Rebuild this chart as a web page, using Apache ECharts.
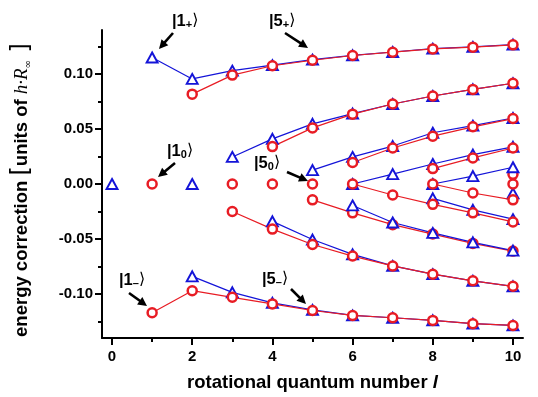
<!DOCTYPE html>
<html>
<head>
<meta charset="utf-8">
<script src="https://cdn.jsdelivr.net/npm/echarts@6/dist/echarts.min.js"></script>
<style>
  html, body { margin: 0; padding: 0; background: #fff; }
  #chart { width: 538px; height: 397px; }
</style>
</head>
<body>
<div id="chart"></div>
<script>
// rotational quantum number l
const lValues = [0, 1, 2, 3, 4, 5, 6, 7, 8, 9, 10];

// blue triangles, one array per branch (null = no point)
const blueTop   = [null, 0.115, 0.0955, 0.103, 0.108, 0.113, 0.117, 0.120, 0.123, 0.1246, 0.1267];
const blueUp2   = [null, null, null, 0.0246, 0.041, 0.0547, 0.064, 0.0727, 0.080, 0.086, 0.0916];
const blueUp3   = [null, null, null, null, null, 0.0126, 0.0246, 0.0345, 0.0466, 0.053, 0.060];
const blueUp4   = [null, null, null, null, null, null, 0, 0.009, 0.0182, 0.0267, 0.0338];
const blueUp5   = [null, null, null, null, null, null, null, null, 0, 0.0072, 0.0152];
const blueDown4 = [null, null, null, null, null, null, null, null, -0.013, -0.0235, -0.032];
const blueDown3 = [null, null, null, null, null, null, -0.0195, -0.035, -0.0445, -0.053, -0.0605];
const blueDown2 = [null, null, null, null, -0.034, -0.0505, -0.064, -0.0745, -0.082, -0.088, -0.093];
const blueBottom = [null, null, -0.084, -0.0985, -0.108, -0.1145, -0.1195, -0.1216, -0.124, -0.127, -0.1286];
const blueSingle = [0, null, 0, null, null, null, null, null, null, null, -0.0085];

// red circles
const redTop    = [null, null, 0.0817, 0.099, 0.1075, 0.1125, 0.1168, 0.1198, 0.1228, 0.1244, 0.1265];
const redUp2    = [null, null, null, null, 0.034, 0.051, 0.0635, 0.0727, 0.080, 0.086, 0.0916];
const redUp3    = [null, null, null, null, null, null, 0.0195, 0.0327, 0.0435, 0.052, 0.0595];
const redUp4    = [null, null, null, null, null, null, null, null, 0.014, 0.0237, 0.0327];
const redDown5  = [null, null, null, null, null, null, null, null, 0, -0.0082, -0.0144];
const redDown4  = [null, null, null, null, null, null, 0, -0.010, -0.0185, -0.0262, -0.0345];
const redDown3  = [null, null, null, null, null, -0.0144, -0.0262, -0.037, -0.0455, -0.054, -0.061];
const redDown2  = [null, null, null, -0.025, -0.041, -0.055, -0.0655, -0.0745, -0.082, -0.088, -0.093];
const redBottom = [null, -0.117, -0.097, -0.103, -0.109, -0.115, -0.1195, -0.1216, -0.124, -0.127, -0.1286];
const redSingle = [null, 0, null, 0, 0, 0, null, null, null, null, 0];
const redSingle2 = [null, null, null, null, null, null, null, null, null, null, 0.0088];

// ticks
const xMajorTicks = [0, 2, 4, 6, 8, 10];
const xMinorTicks = [1, 3, 5, 7, 9];
const yMajorTicks = [-0.1, -0.05, 0, 0.05, 0.1];
const yMinorTicks = [-0.125, -0.075, -0.025, 0.025, 0.075, 0.125];

const BLUE = "#1414d8";
const RED = "#e81c24";

function toPairs(values) {
  return lValues
    .map((l, i) => (values[i] === null ? null : [l, values[i]]))
    .filter(p => p);
}

function blueSeries(values, asScatter) {
  return {
    type: asScatter ? "scatter" : "line",
    data: toPairs(values),
    symbol: "triangle",
    symbolSize: [11, 10],
    itemStyle: { color: "#fff", borderColor: BLUE, borderWidth: 1.9, opacity: 1 },
    lineStyle: { color: BLUE, width: 1.2 },
    animation: false,
    silent: true
  };
}

function redSeries(values, asScatter) {
  return {
    type: asScatter ? "scatter" : "line",
    data: toPairs(values),
    symbol: "circle",
    symbolSize: 9,
    itemStyle: { color: "#fff", borderColor: RED, borderWidth: 2.5, opacity: 1 },
    lineStyle: { color: RED, width: 1.2 },
    animation: false,
    silent: true
  };
}

const series = [
  blueSeries(blueTop), blueSeries(blueUp2), blueSeries(blueUp3), blueSeries(blueUp4),
  blueSeries(blueUp5), blueSeries(blueDown4), blueSeries(blueDown2),
  blueSeries(blueBottom), blueSeries(blueSingle, true),
  redSeries(redTop), redSeries(redUp2), redSeries(redUp3), redSeries(redUp4),
  redSeries(redDown5), redSeries(redDown4), redSeries(redDown3), redSeries(redDown2),
  redSeries(redBottom), redSeries(redSingle, true), redSeries(redSingle2, true),
  // this branch shows the triangles on top
  blueSeries(blueDown3)
];

// ket labels with arrows (pixel layout)
const kets = [
  { n: "1", s: "+", x: 172, y: 21, from: [173, 33], to: [159, 49] },
  { n: "5", s: "+", x: 269, y: 21, from: [285, 33], to: [308, 48] },
  { n: "1", s: "0", x: 167, y: 151, from: [175, 163], to: [158, 177] },
  { n: "5", s: "0", x: 254, y: 163, from: [287, 172], to: [308, 181] },
  { n: "1", s: "\u2013", x: 119, y: 280, from: [129, 293], to: [147, 306] },
  { n: "5", s: "\u2013", x: 262, y: 279, from: [291, 289], to: [306, 304] }
];

const ketRich = {
  b: { fontFamily: "Liberation Sans", fontWeight: "bold", fontSize: 16.5, lineHeight: 19, verticalAlign: "middle", fill: "#000" },
  s: { fontFamily: "Liberation Sans", fontWeight: "bold", fontSize: 11, lineHeight: 11, verticalAlign: "bottom", fill: "#000" },
  k: { fontFamily: "DejaVu Sans", fontSize: 16, lineHeight: 19, verticalAlign: "middle", fill: "#000" }
};

function arrowGraphics(from, to) {
  const dx = to[0] - from[0];
  const dy = to[1] - from[1];
  const len = Math.sqrt(dx * dx + dy * dy);
  const ux = dx / len, uy = dy / len;
  const head = 9, half = 4.5;
  const bx = to[0] - ux * head, by = to[1] - uy * head;
  return [
    {
      type: "line",
      shape: { x1: from[0], y1: from[1], x2: bx + ux, y2: by + uy },
      style: { stroke: "#000", lineWidth: 2.6 },
      silent: true
    },
    {
      type: "polygon",
      shape: {
        points: [
          [to[0], to[1]],
          [bx - uy * half, by + ux * half],
          [bx + uy * half, by - ux * half]
        ]
      },
      style: { fill: "#000" },
      silent: true
    }
  ];
}

const graphics = [];
kets.forEach(k => {
  graphics.push({
    type: "text",
    x: k.x,
    y: k.y,
    silent: true,
    style: {
      text: "{b||" + k.n + "}{s|" + k.s + "}{k|\u27E9}",
      rich: ketRich,
      verticalAlign: "middle"
    }
  });
  graphics.push(...arrowGraphics(k.from, k.to));
});

const tickLabelStyle = {
  fontFamily: "Liberation Sans",
  fontWeight: "bold",
  fontSize: 15,
  color: "#000"
};

const chart = echarts.init(document.getElementById("chart"), null, { renderer: "canvas" });

chart.setOption({
  animation: false,
  backgroundColor: "#fff",
  grid: { left: 102, right: 15, top: 30, bottom: 58, containLabel: false },
  xAxis: [
    {
      type: "value",
      min: -0.25,
      max: 10.25,
      position: "bottom",
      name: "rotational quantum number {i|l}",
      nameLocation: "middle",
      nameGap: 35,
      nameTextStyle: {
        fontFamily: "Liberation Sans",
        fontWeight: "bold",
        fontSize: 18.5,
        color: "#000",
        rich: {
          i: { fontFamily: "Liberation Sans", fontWeight: "bold", fontStyle: "italic", fontSize: 18.5, color: "#000" }
        }
      },
      axisLine: { onZero: false, lineStyle: { color: "#000", width: 2 } },
      axisTick: { inside: false, length: 7, customValues: xMajorTicks, lineStyle: { color: "#000", width: 2 } },
      axisLabel: { customValues: xMajorTicks, margin: 11, ...tickLabelStyle },
      splitLine: { show: false }
    },
    {
      type: "value",
      min: -0.25,
      max: 10.25,
      position: "bottom",
      axisLine: { show: false, onZero: false },
      axisTick: { length: 4, customValues: xMinorTicks, lineStyle: { color: "#000", width: 2 } },
      axisLabel: { show: false },
      splitLine: { show: false }
    }
  ],
  yAxis: [
    {
      type: "value",
      min: -0.14,
      max: 0.14,
      position: "left",
      name: "{t|energy correction }{br|[}{t|units of }{it|h\u00B7R}{sub|\u221E}{br| ]}",
      nameLocation: "middle",
      nameRotate: 90,
      nameGap: 69,
      nameTextStyle: {
        padding: [0, 12, 0, 0],
        rich: {
          t: { fontFamily: "Liberation Sans", fontWeight: "bold", fontSize: 18.5, lineHeight: 22, verticalAlign: "middle", color: "#000" },
          br: { fontFamily: "DejaVu Sans", fontSize: 24, lineHeight: 22, verticalAlign: "middle", color: "#000" },
          it: { fontFamily: "Liberation Serif", fontStyle: "italic", fontSize: 19, lineHeight: 22, verticalAlign: "middle", color: "#000" },
          sub: { fontFamily: "DejaVu Sans", fontSize: 10, lineHeight: 10, verticalAlign: "bottom", color: "#000" }
        }
      },
      axisLine: { onZero: false, lineStyle: { color: "#000", width: 2 } },
      axisTick: { inside: false, length: 7, customValues: yMajorTicks, lineStyle: { color: "#000", width: 2 } },
      axisLabel: {
        customValues: yMajorTicks,
        margin: 9,
        formatter: v => v.toFixed(2),
        ...tickLabelStyle
      },
      splitLine: { show: false }
    },
    {
      type: "value",
      min: -0.14,
      max: 0.14,
      position: "left",
      axisLine: { show: false, onZero: false },
      axisTick: { length: 4, customValues: yMinorTicks, lineStyle: { color: "#000", width: 2 } },
      axisLabel: { show: false },
      splitLine: { show: false }
    }
  ],
  series: series,
  graphic: graphics
});
</script>
</body>
</html>
